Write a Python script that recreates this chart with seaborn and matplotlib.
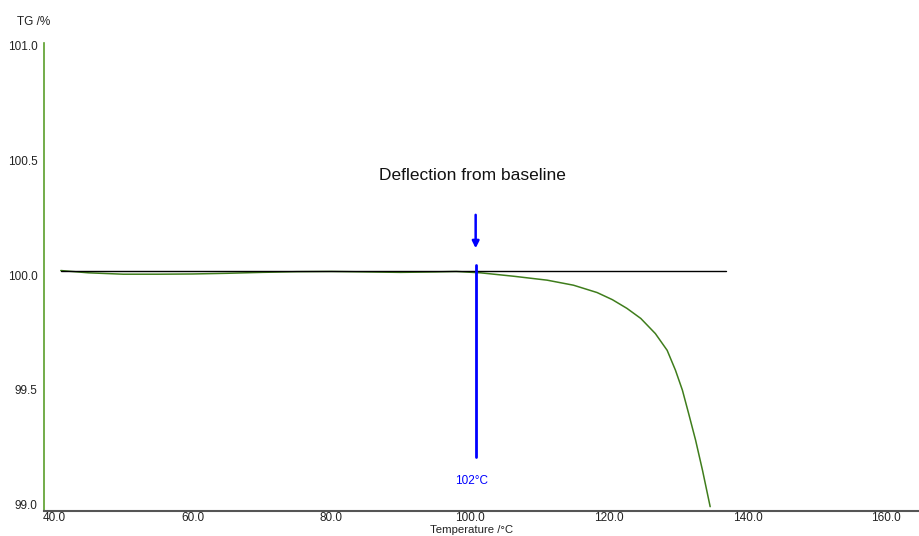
import numpy as np
import pandas as pd
import matplotlib.pyplot as plt
import seaborn as sns
from matplotlib.ticker import MultipleLocator, FormatStrFormatter

# TG curve
temp = [41, 45, 50, 55, 60, 65, 70, 75, 80, 85, 90, 95, 98, 101.5, 106.3,
        111.1, 114.9, 118.3, 120.5, 122.6, 124.6, 126.7, 128.4, 129.6, 130.6, 131.5,
        132.5, 133.5, 134.6]
tg = [100.02, 100.01, 100.004, 100.004, 100.005, 100.008, 100.012, 100.015,
      100.016, 100.014, 100.012, 100.014, 100.016, 100.01, 99.995,
      99.978, 99.956, 99.924, 99.893, 99.855, 99.811, 99.745, 99.672, 99.585, 99.498, 99.396,
      99.28, 99.148, 98.99]

baseline_t = [41, 136.9]
baseline_tg = [100.017, 100.017]

onset_t = 100.8
onset_label = "102°C"
note = "Deflection from baseline"

df = pd.DataFrame({"Temperature": temp, "TG": tg})

sns.set_style("white")
plt.rcParams['font.family'] = ['Liberation Sans', 'DejaVu Sans']

fig = plt.figure(figsize=(9.19, 5.36), dpi=100)
ax = fig.add_axes([0.048, 0.0466, 0.952, 0.8734])

sns.lineplot(data=df, x="Temperature", y="TG", ax=ax, color="#3f7d1c", linewidth=1.1)
ax.plot(baseline_t, baseline_tg, color="black", linewidth=1)

# onset marker
ax.plot([onset_t, onset_t], [99.205, 100.045], color="#0000ff", linewidth=2)
ax.annotate("", xy=(onset_t, 100.105), xytext=(onset_t, 100.275),
            arrowprops=dict(arrowstyle="-|>", color="#0000ff", lw=1.8, mutation_scale=10))
ax.text(onset_t - 0.6, 99.1, onset_label, color="#0000ff", fontsize=8.5, ha="center", va="center")
ax.text(onset_t - 0.4, 100.435, note, fontsize=12.5, ha="center", va="center", color="#111111")

ax.set_xlim(38.6, 164.7)
ax.set_ylim(98.971, 101.013)
ax.xaxis.set_major_locator(MultipleLocator(20))
ax.xaxis.set_minor_locator(MultipleLocator(10))
ax.yaxis.set_major_locator(MultipleLocator(0.5))
ax.yaxis.set_minor_locator(MultipleLocator(0.1))
ax.xaxis.set_major_formatter(FormatStrFormatter("%.1f"))
ax.yaxis.set_major_formatter(FormatStrFormatter("%.1f"))

for s in ["top", "right"]:
    ax.spines[s].set_visible(False)
ax.spines["left"].set_color("#5a9e2a")
ax.spines["left"].set_linewidth(1.2)
ax.spines["bottom"].set_color("#555555")
ax.spines["bottom"].set_linewidth(1.5)

ax.tick_params(axis="both", which="major", labelsize=8.5, length=3, width=0.8, pad=1.5, colors="#333333")
ax.tick_params(axis="both", which="minor", length=2, width=0.8, colors="#555555")
ax.tick_params(axis="y", which="both", color="#5a9e2a", labelcolor="#222222")
ax.tick_params(axis="x", which="both", direction="in", labelcolor="#222222", pad=0.5)

ax.set_xlabel("")
ax.set_ylabel("")
fig.text(0.037, 0.959, "TG /%", fontsize=8.5, ha="center", va="center", color="#222222")
fig.text(0.513, 0.001, "Temperature /°C", fontsize=8.2, ha="center", va="bottom", color="#222222")

fig.savefig("out.png", dpi=100)
